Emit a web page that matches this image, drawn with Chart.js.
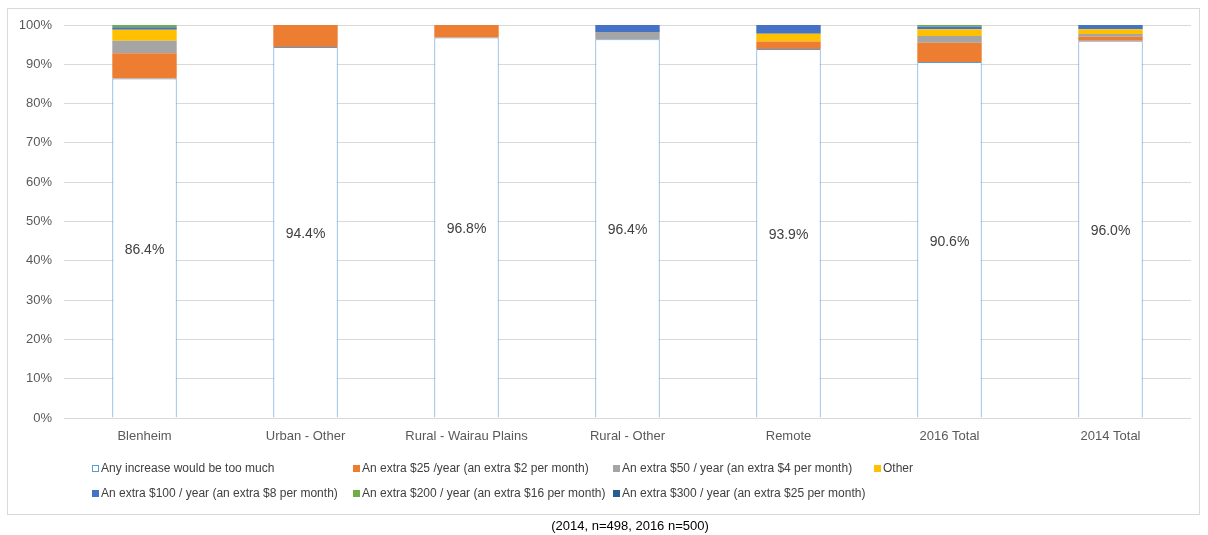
<!DOCTYPE html>
<html>
<head>
<meta charset="utf-8">
<script src="https://cdn.jsdelivr.net/npm/chart.js@4.4.1/dist/chart.umd.min.js"></script>
<style>
  html, body { margin: 0; padding: 0; background: #fff; }
  canvas { display: block; }
</style>
</head>
<body>
<canvas id="myChart" width="1208" height="535"></canvas>
<script>
// categories and tick labels
const categories = ['Blenheim', 'Urban - Other', 'Rural - Wairau Plains', 'Rural - Other', 'Remote', '2016 Total', '2014 Total'];
const yTicks = [0, 10, 20, 30, 40, 50, 60, 70, 80, 90, 100];

// series values (%)
const tooMuch   = [86.4, 94.4, 96.8, 96.4, 93.9, 90.6, 96.0];
const extra25   = [6.4, 5.6, 3.2, 0, 1.9, 4.9, 1.0];
const extra50   = [3.2, 0, 0, 1.8, 0, 1.7, 0.7];
const other     = [2.8, 0, 0, 0, 2.0, 1.7, 1.2];
const extra100  = [0.6, 0, 0, 1.8, 2.2, 0.7, 1.1];
const extra200  = [0.6, 0, 0, 0, 0, 0.4, 0];
const extra300  = [0, 0, 0, 0, 0, 0, 0];

const seriesNames = [
    'Any increase would be too much',
    'An extra $25 /year (an extra $2 per month)',
    'An extra $50 / year (an extra $4 per month)',
    'Other',
    'An extra $100 / year (an extra $8 per month)',
    'An extra $200 / year (an extra $16 per month)',
    'An extra $300 / year (an extra $25 per month)'
];
const seriesValues = [tooMuch, extra25, extra50, other, extra100, extra200, extra300];
const seriesColors = ['#FFFFFF', '#ED7D31', '#A5A5A5', '#FFC000', '#4472C4', '#70AD47', '#255E91'];

const FONT = '"Liberation Sans", Arial, sans-serif';

const datasets = seriesNames.map((name, i) => ({
    label: name,
    data: seriesValues[i],
    backgroundColor: seriesColors[i],
    borderColor: i === 0 ? '#5B9BD5' : seriesColors[i],
    borderWidth: i === 0 ? 1 : 0,
    barPercentage: 0.8,
    categoryPercentage: 0.5
}));

// frame, caption, labels and a grid legend like the Excel original
const extrasPlugin = {
    id: 'extras',
    beforeDraw(chart) {
        const c = chart.ctx;
        c.save();
        c.fillStyle = '#fff';
        c.fillRect(0, 0, chart.width, chart.height);
        c.strokeStyle = '#D9D9D9';
        c.lineWidth = 1;
        c.strokeRect(7.5, 8.5, 1192, 506);
        c.restore();
    },
    afterDatasetsDraw(chart) {
        const c = chart.ctx;
        c.save();
        // value labels on the white segment
        const meta = chart.getDatasetMeta(0);
        c.font = '14px ' + FONT;
        c.fillStyle = '#404040';
        c.textAlign = 'center';
        c.textBaseline = 'middle';
        meta.data.forEach((bar, i) => {
            const y = (bar.y + bar.base) / 2 + 2;
            c.fillText(tooMuch[i].toFixed(1) + '%', bar.x, y);
        });

        // legend
        c.font = '12px ' + FONT;
        c.textAlign = 'left';
        const colX = [92, 353, 613, 874];
        const rowY = [469, 494];
        seriesNames.forEach((name, i) => {
            const x = colX[i % 4];
            const y = rowY[Math.floor(i / 4)];
            c.fillStyle = seriesColors[i];
            c.fillRect(x, y - 4, 7, 7);
            if (i === 0) {
                c.strokeStyle = '#5B9BD5';
                c.lineWidth = 1;
                c.strokeRect(x + 0.5, y - 3.5, 6, 6);
            }
            c.fillStyle = '#404040';
            c.fillText(name, x + 9, y);
        });

        // caption
        c.textAlign = 'center';
        c.font = '13px ' + FONT;
        c.fillStyle = '#000';
        c.fillText('(2014, n=498, 2016 n=500)', 630, 526);
        c.restore();
    }
};

const ctx = document.getElementById('myChart').getContext('2d');
const myChart = new Chart(ctx, {
    type: 'bar',
    data: { labels: categories, datasets: datasets },
    options: {
        responsive: false,
        animation: false,
        layout: { padding: { left: 20, right: 17, top: 25, bottom: 77 } },
        plugins: {
            legend: { display: false },
            tooltip: { enabled: false }
        },
        scales: {
            x: {
                stacked: true,
                grid: { display: false, drawTicks: false },
                border: { display: false },
                ticks: { font: { family: FONT, size: 13 }, color: '#595959', padding: 11, maxRotation: 0 },
                afterFit: s => { s.height = 40; }
            },
            y: {
                stacked: true,
                min: 0,
                max: 100,
                afterBuildTicks: s => { s.ticks = yTicks.map(v => ({ value: v })); },
                grid: { color: '#D9D9D9', drawTicks: false },
                border: { display: false },
                ticks: {
                    font: { family: FONT, size: 13 },
                    color: '#595959',
                    padding: 12,
                    callback: v => v + '%'
                },
                afterFit: s => { s.width = 44; }
            }
        }
    },
    plugins: [extrasPlugin]
});
</script>
</body>
</html>
